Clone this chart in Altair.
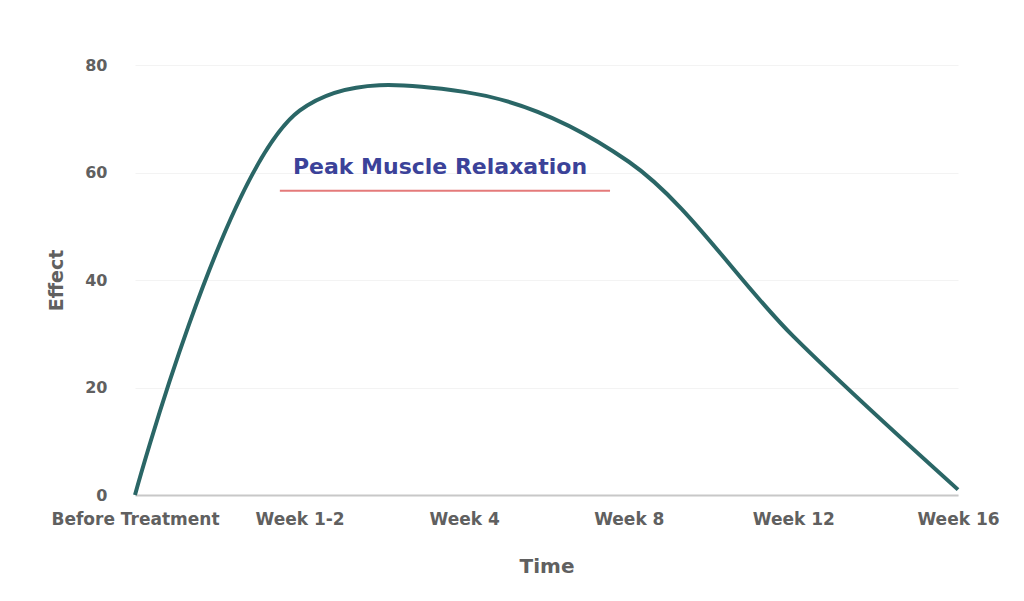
import altair as alt
import pandas as pd

categories = ["Before Treatment", "Week 1-2", "Week 4", "Week 8", "Week 12", "Week 16"]
positions = [0, 1, 2, 3, 4, 5]
effect = [0, 71.5, 75, 62, 29.5, 1]

df = pd.DataFrame({"pos": positions, "label": categories, "effect": effect})

label_expr = "[" + ",".join(f"'{c}'" for c in categories) + "][datum.value]"

FONT = "DejaVu Sans"

xenc = alt.X("pos:Q", title="Time",
             scale=alt.Scale(domain=[0, 5], nice=False, zero=False),
             axis=alt.Axis(values=positions, labelExpr=label_expr, grid=False,
                           ticks=False, domainColor="#c8c8c8", domainWidth=2,
                           labelColor="#606060", labelFontSize=17, labelFontWeight="bold",
                           labelFlush=False, labelBound=False, labelOverlap=False,
                           labelPadding=16, titleFontSize=20, titleFontWeight="bold",
                           titleColor="#606060", titlePadding=29))
yenc = alt.Y("effect:Q", title="Effect",
             scale=alt.Scale(domain=[0, 80], nice=False),
             axis=alt.Axis(values=[0, 20, 40, 60, 80], grid=True, gridColor="#f3f3f3",
                           domain=False, ticks=False, labelColor="#606060", labelFontSize=16,
                           labelFontWeight="bold", labelPadding=28, titleFontSize=19,
                           titleFontWeight="bold", titleColor="#606060", titlePadding=18))

base = alt.Chart(df)
line = base.mark_line(interpolate="catmull-rom", color="#2a6666", strokeWidth=4).encode(x=xenc, y=yenc)

ann_text = pd.DataFrame({"x": [1.853], "y": [61.0], "t": ["Peak Muscle Relaxation"]})
ann_rule = pd.DataFrame({"x": [0.88], "x2": [2.886], "y": [56.6]})

text = alt.Chart(ann_text).mark_text(fontSize=22, fontWeight="bold", color="#3b4299",
                                     font=FONT, align="center", baseline="middle").encode(
    x="x:Q", y="y:Q", text="t:N")
rule = alt.Chart(ann_rule).mark_rule(color="#e47a7a", strokeWidth=2).encode(
    x="x:Q", x2="x2:Q", y="y:Q")

chart = alt.layer(rule, line, text).properties(
    width=823, height=430,
    autosize=alt.AutoSizeParams(type="none"),
    padding={"left": 127, "top": 57, "right": 50, "bottom": 90},
).configure(font=FONT, view=alt.ViewConfig(stroke=None))

chart.save("out.html", embed_options={"renderer": "svg", "actions": False})
